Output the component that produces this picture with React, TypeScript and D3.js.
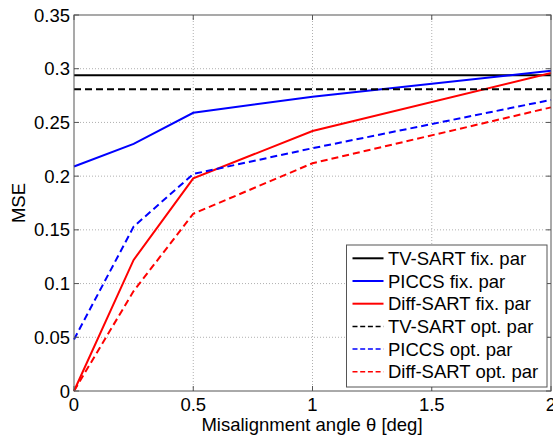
import React, { useEffect, useRef } from 'react';
import * as d3 from 'd3';

const angles = [0, 0.25, 0.5, 1, 2];
const tvSartFix = [0.294, 0.294, 0.294, 0.294, 0.294];
const piccsFix = [0.209, 0.23, 0.259, 0.274, 0.298];
const diffSartFix = [0, 0.122, 0.198, 0.242, 0.296];
const tvSartOpt = [0.281, 0.281, 0.281, 0.281, 0.281];
const piccsOpt = [0.048, 0.153, 0.202, 0.226, 0.271];
const diffSartOpt = [0, 0.093, 0.165, 0.212, 0.264];

const xTicks = [0, 0.5, 1, 1.5, 2];
const yTicks = [0, 0.05, 0.1, 0.15, 0.2, 0.25, 0.3, 0.35];

const series = [
  { name: 'TV-SART fix. par', values: tvSartFix, color: '#000', dashed: false },
  { name: 'PICCS fix. par', values: piccsFix, color: '#0000ff', dashed: false },
  { name: 'Diff-SART fix. par', values: diffSartFix, color: '#ff0000', dashed: false },
  { name: 'TV-SART opt. par', values: tvSartOpt, color: '#000', dashed: true },
  { name: 'PICCS opt. par', values: piccsOpt, color: '#0000ff', dashed: true },
  { name: 'Diff-SART opt. par', values: diffSartOpt, color: '#ff0000', dashed: true },
];

export default function App() {
  const ref = useRef<SVGSVGElement>(null);

  useEffect(() => {
    const svg = d3.select(ref.current);
    svg.selectAll('*').remove();
    const W = 553;
    const H = 437;
    const margin = { top: 15, right: 2, bottom: 46, left: 74 };
    const width = W - margin.left - margin.right;
    const height = H - margin.top - margin.bottom;
    const font = 'Liberation Sans, Arial, sans-serif';
    const fs = 18.5;

    const g = svg.append('g').attr('transform', `translate(${margin.left},${margin.top})`);

    const x = d3.scaleLinear().domain([0, 2]).range([0, width]);
    const y = d3.scaleLinear().domain([0, 0.35]).range([height, 0]);

    g.append('rect').attr('width', width).attr('height', height).attr('fill', '#fff');

    // 网格
    g.append('g').selectAll('line').data(xTicks.slice(1, -1)).enter().append('line')
      .attr('x1', (d) => x(d)).attr('x2', (d) => x(d))
      .attr('y1', 0).attr('y2', height)
      .attr('stroke', '#b0b0b0').attr('stroke-width', 1).attr('stroke-dasharray', '1,2');
    g.append('g').selectAll('line').data(yTicks.slice(1, -1)).enter().append('line')
      .attr('y1', (d) => y(d)).attr('y2', (d) => y(d))
      .attr('x1', 0).attr('x2', width)
      .attr('stroke', '#b0b0b0').attr('stroke-width', 1).attr('stroke-dasharray', '1,2');

    const line = d3.line<number>()
      .x((d, i) => x(angles[i]))
      .y((d) => y(d));

    series.forEach((s) => {
      g.append('path')
        .datum(s.values)
        .attr('fill', 'none')
        .attr('stroke', s.color)
        .attr('stroke-width', 2)
        .attr('stroke-dasharray', s.dashed ? '7,4' : null)
        .attr('d', line);
    });

    // 边框和刻度
    g.append('rect').attr('width', width).attr('height', height)
      .attr('fill', 'none').attr('stroke', '#555').attr('stroke-width', 1);

    const ax = g.append('g').attr('stroke', '#555').attr('stroke-width', 1);
    xTicks.forEach((t) => {
      ax.append('line').attr('x1', x(t)).attr('x2', x(t)).attr('y1', height).attr('y2', height - 5);
      ax.append('line').attr('x1', x(t)).attr('x2', x(t)).attr('y1', 0).attr('y2', 5);
    });
    yTicks.forEach((t) => {
      ax.append('line').attr('x1', 0).attr('x2', 5).attr('y1', y(t)).attr('y2', y(t));
      ax.append('line').attr('x1', width).attr('x2', width - 5).attr('y1', y(t)).attr('y2', y(t));
    });

    g.append('g').selectAll('text').data(xTicks).enter().append('text')
      .attr('x', (d) => x(d)).attr('y', height + 20)
      .attr('text-anchor', 'middle')
      .attr('font-family', font).attr('font-size', fs).attr('fill', '#000')
      .text((d) => d3.format('')(d));

    g.append('g').selectAll('text').data(yTicks).enter().append('text')
      .attr('x', -4).attr('y', (d) => y(d) + 6.5)
      .attr('text-anchor', 'end')
      .attr('font-family', font).attr('font-size', fs).attr('fill', '#000')
      .text((d) => d3.format('')(d));

    svg.append('text')
      .attr('x', 312).attr('y', 431)
      .attr('text-anchor', 'middle')
      .attr('font-family', font).attr('font-size', fs).attr('fill', '#000')
      .text('Misalignment angle θ [deg]');

    svg.append('text')
      .attr('transform', `translate(25,${margin.top + height / 2}) rotate(-90)`)
      .attr('text-anchor', 'middle')
      .attr('font-family', font).attr('font-size', fs).attr('fill', '#000')
      .text('MSE');

    // 图例
    const legend = svg.append('g').attr('transform', 'translate(346.5,245)');
    legend.append('rect')
      .attr('width', 200.5).attr('height', 142)
      .attr('fill', '#fff').attr('stroke', '#555').attr('stroke-width', 1);
    series.forEach((s, i) => {
      const cy = 13.3 + i * 22.7;
      legend.append('line')
        .attr('x1', 6).attr('x2', 37).attr('y1', cy).attr('y2', cy)
        .attr('stroke', s.color).attr('stroke-width', s.dashed ? 1.5 : 2)
        .attr('stroke-dasharray', s.dashed ? '5,2.7' : null);
      legend.append('text')
        .attr('x', 41.5).attr('y', cy + 6.5)
        .attr('font-family', font).attr('font-size', fs).attr('fill', '#000')
        .text(s.name);
    });
  }, []);

  return (
    <svg ref={ref} width={553} height={437}
      style={{ position: 'absolute', left: 0, top: 0, background: '#fff' }} />
  );
}
